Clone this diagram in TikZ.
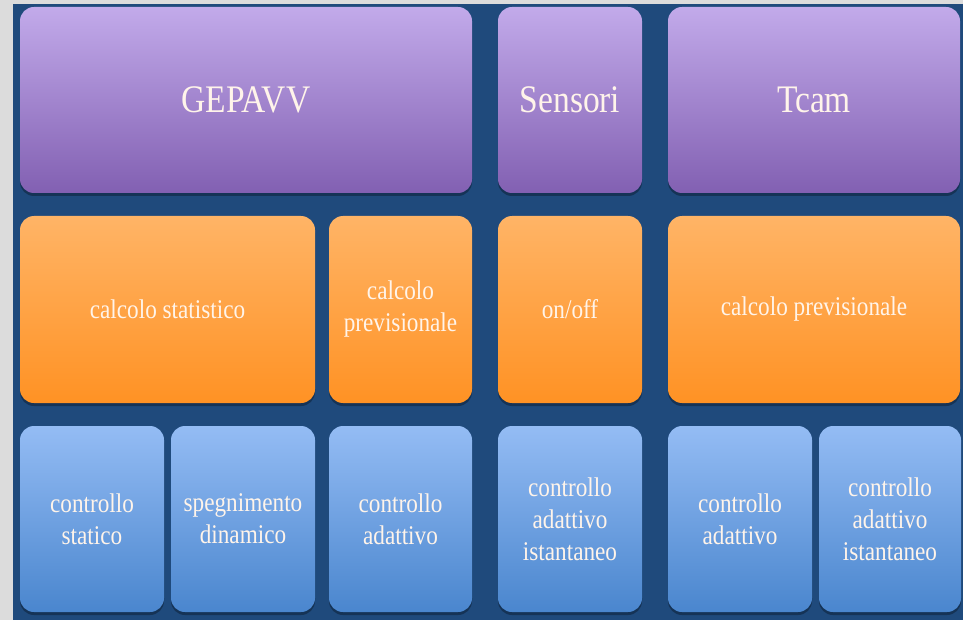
\documentclass[tikz,border=0pt]{standalone}
\usepackage{fontspec}
\setmainfont{Liberation Serif}[FakeStretch=0.86]
\usepackage{tikz}
\usetikzlibrary{shadows}
\definecolor{page}{HTML}{DCDCDC}
\definecolor{deep}{HTML}{1F4A7C}
\definecolor{headT}{HTML}{C2AAEA}
\definecolor{headB}{HTML}{8260B2}
\definecolor{calcT}{HTML}{FFB466}
\definecolor{calcB}{HTML}{FF9224}
\definecolor{ctrlT}{HTML}{94BCF4}
\definecolor{ctrlB}{HTML}{4A86CE}
\definecolor{ink}{HTML}{FFF4EA}

\tikzset{
  tile/.style={rounded corners=14pt,inner sep=0pt,align=center,text=ink,
    font=\fontsize{27}{32}\selectfont,
    drop shadow={shadow xshift=0pt,shadow yshift=-3pt,opacity=0.3,fill=black}},
  headbox/.style={tile,top color=headT,bottom color=headB,minimum height=186pt,
    font=\fontsize{39}{44}\selectfont},
  calcbox/.style={tile,top color=calcT,bottom color=calcB,minimum height=187pt},
  ctrlbox/.style={tile,top color=ctrlT,bottom color=ctrlB,minimum height=186pt}
}

\begin{document}
\begin{tikzpicture}[x=1pt,y=-1pt]
  \fill[page] (0,0) rectangle (963,620);
  \fill[deep] (13,4) rectangle (963,620);
  \useasboundingbox (0,0) rectangle (963,620);

  % top row
  \node[headbox,minimum width=452pt] (gepavv) at (246,100) {GEPAVV};
  \node[headbox,minimum width=144pt] (sensori) at (570,100) {Sensori};
  \node[headbox,minimum width=292pt] (tcam) at (814,100) {Tcam};

  % middle row
  \node[calcbox,minimum width=295pt] (stat) at (167.5,309.5) {calcolo statistico};
  \node[calcbox,minimum width=143pt] (prevg) at (400.5,309.5) {calcolo\\previsionale};
  \node[calcbox,minimum width=144pt] (onoff) at (570,309.5) {on/off};
  \node[calcbox,minimum width=292pt] (prevt) at (814,309.5) {calcolo previsionale};

  % bottom row
  \node[ctrlbox,minimum width=144pt] (statico) at (92,519) {controllo\\statico};
  \node[ctrlbox,minimum width=144pt] (spegn) at (243,519) {spegnimento\\dinamico};
  \node[ctrlbox,minimum width=143pt] (adattg) at (400.5,519) {controllo\\adattivo};
  \node[ctrlbox,minimum width=144pt] (istans) at (570,519) {controllo\\adattivo\\istantaneo};
  \node[ctrlbox,minimum width=144pt] (adattt) at (740,519) {controllo\\adattivo};
  \node[ctrlbox,minimum width=142pt] (istant) at (890,519) {controllo\\adattivo\\istantaneo};
\end{tikzpicture}
\end{document}
